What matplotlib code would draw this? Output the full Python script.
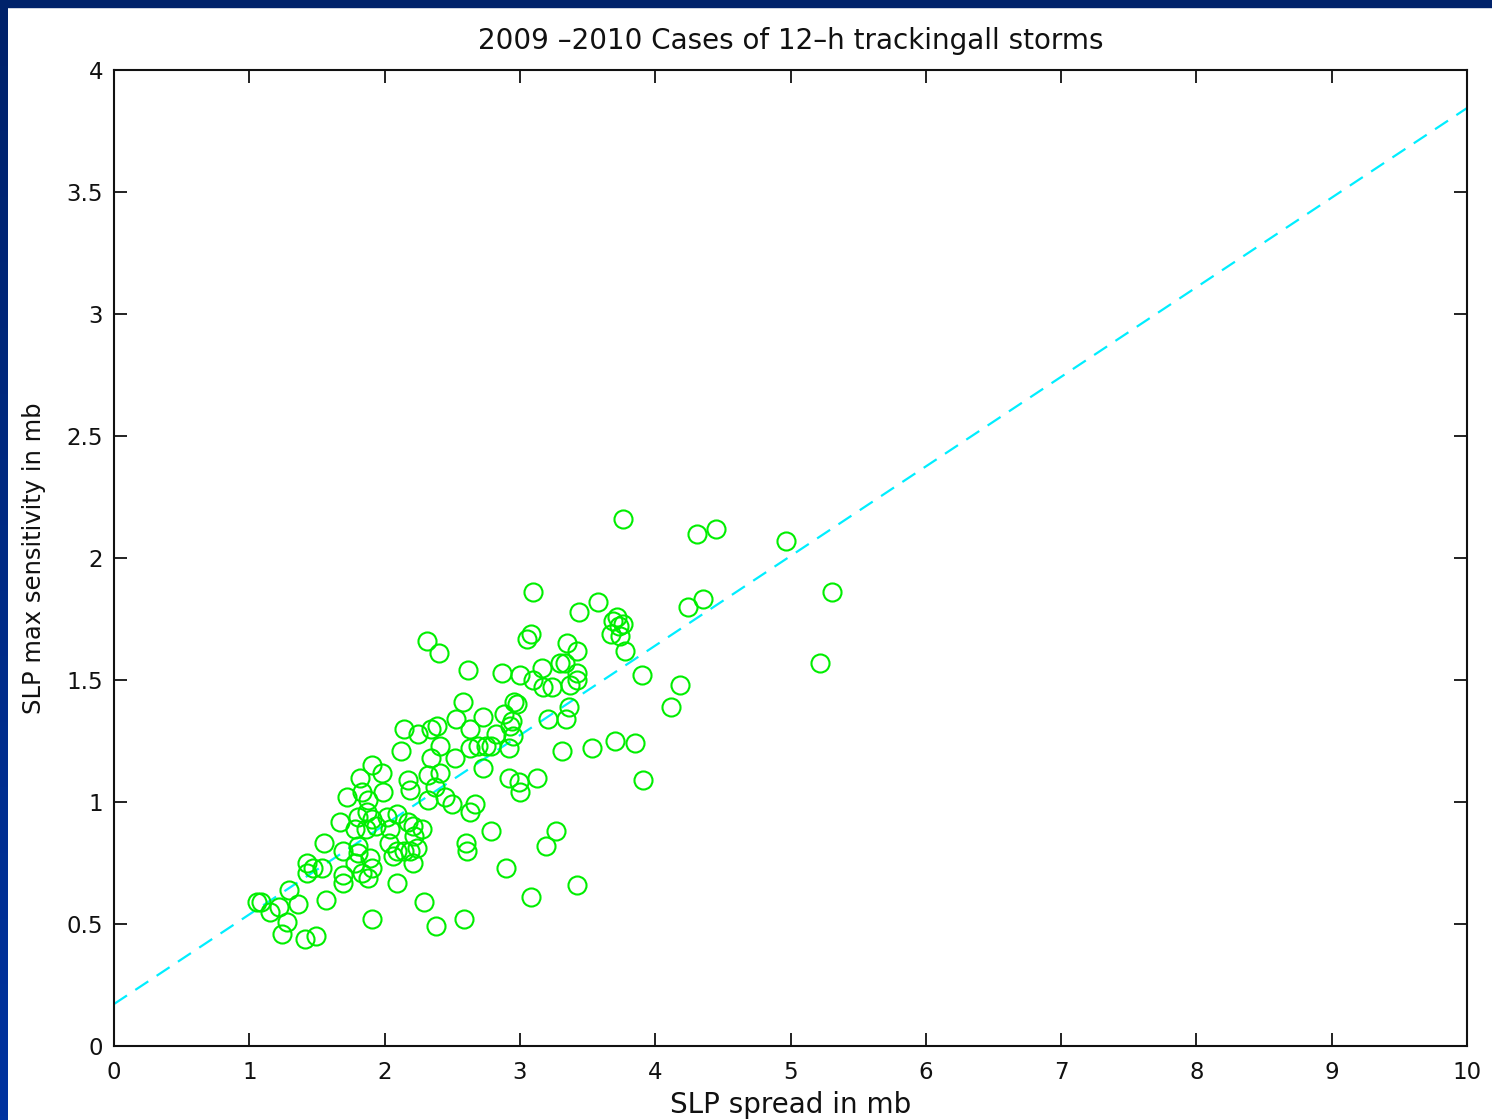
import numpy as np
import matplotlib
matplotlib.use("Agg")
import matplotlib.pyplot as plt
from matplotlib.patches import Rectangle
from matplotlib.colors import LinearSegmentedColormap

# SLP spread (mb) vs SLP max sensitivity (mb) for 12-h tracked storms, 2009-2010
spread = [
    1.06, 1.09, 1.15, 1.22, 1.24, 1.29, 1.28, 1.36, 1.41, 1.49,
    1.43, 1.47, 1.54, 1.43, 1.55, 1.57, 1.67, 1.69, 1.69, 1.69,
    1.72, 1.78, 1.80, 1.78, 1.80, 1.80, 1.82, 1.83, 1.83, 1.86,
    1.87, 1.88, 1.88, 1.89, 1.91, 1.91, 1.91, 1.91, 1.94, 1.98,
    1.99, 2.02, 2.03, 2.04, 2.06, 2.09, 2.09, 2.09, 2.12, 2.14,
    2.14, 2.17, 2.17, 2.19, 2.19, 2.21, 2.21, 2.22, 2.24, 2.25,
    2.28, 2.29, 2.31, 2.32, 2.32, 2.34, 2.34, 2.37, 2.39, 2.40,
    2.41, 2.41, 2.38, 2.45, 2.50, 2.52, 2.53, 2.58, 2.59, 2.60,
    2.61, 2.62, 2.63, 2.63, 2.63, 2.67, 2.69, 2.73, 2.73, 2.75,
    2.79, 2.79, 2.82, 2.87, 2.88, 2.90, 2.92, 2.92, 2.93, 2.94,
    2.95, 2.96, 2.98, 2.99, 3.00, 3.00, 3.05, 3.08, 3.08, 3.10,
    3.10, 3.13, 3.16, 3.17, 3.19, 3.21, 3.24, 3.27, 3.30, 3.33,
    3.31, 3.35, 3.34, 3.36, 3.37, 3.42, 3.42, 3.42, 3.42, 3.44,
    3.53, 3.58, 3.67, 3.69, 3.70, 3.72, 3.73, 3.74, 3.76, 3.76,
    3.78, 3.85, 3.90, 3.91, 4.12, 4.18, 4.24, 4.31, 4.35, 4.45,
    4.97, 5.22, 5.31,
]
sensitivity = [
    0.59, 0.59, 0.55, 0.57, 0.46, 0.64, 0.51, 0.58, 0.44, 0.45,
    0.75, 0.73, 0.73, 0.71, 0.83, 0.60, 0.92, 0.80, 0.70, 0.67,
    1.02, 0.89, 0.82, 0.75, 0.94, 0.79, 1.10, 1.04, 0.71, 0.89,
    0.96, 1.01, 0.69, 0.77, 1.15, 0.93, 0.73, 0.52, 0.90, 1.12,
    1.04, 0.94, 0.83, 0.89, 0.78, 0.95, 0.80, 0.67, 1.21, 1.30,
    0.80, 0.92, 1.09, 1.05, 0.80, 0.90, 0.75, 0.86, 0.81, 1.28,
    0.89, 0.59, 1.66, 1.11, 1.01, 1.18, 1.30, 1.06, 1.31, 1.61,
    1.23, 1.12, 0.49, 1.02, 0.99, 1.18, 1.34, 1.41, 0.52, 0.83,
    0.80, 1.54, 1.30, 1.22, 0.96, 0.99, 1.23, 1.35, 1.14, 1.23,
    1.23, 0.88, 1.28, 1.53, 1.36, 0.73, 1.22, 1.10, 1.31, 1.33,
    1.27, 1.41, 1.40, 1.08, 1.52, 1.04, 1.67, 1.69, 0.61, 1.86,
    1.50, 1.10, 1.55, 1.47, 0.82, 1.34, 1.47, 0.88, 1.57, 1.57,
    1.21, 1.65, 1.34, 1.39, 1.48, 1.62, 1.53, 1.50, 0.66, 1.78,
    1.22, 1.82, 1.69, 1.74, 1.25, 1.76, 1.72, 1.68, 2.16, 1.73,
    1.62, 1.24, 1.52, 1.09, 1.39, 1.48, 1.80, 2.10, 1.83, 2.12,
    2.07, 1.57, 1.86,
]

# least-squares fit line end points
fit_x = [0.0, 10.0]
fit_y = [0.172, 3.844]

title = "2009 \u20132010 Cases of 12\u2013h trackingall storms"
xlabel = "SLP spread in mb"
ylabel = "SLP max sensitivity in mb"
xticks = [0, 1, 2, 3, 4, 5, 6, 7, 8, 9, 10]
yticks = [0, 0.5, 1, 1.5, 2, 2.5, 3, 3.5, 4]
ytick_labels = ["0", "0.5", "1", "1.5", "2", "2.5", "3", "3.5", "4"]

plt.rcParams["font.family"] = ["DejaVu Sans"]
ink = "#111111"

fig = plt.figure(figsize=(14.92, 11.2), dpi=100)
fig.patch.set_facecolor("white")

# dark blue frame on the top and left edges
strip = fig.add_axes([0, 0, 8 / 1492, 1])
grad = np.linspace(0, 1, 256).reshape(-1, 1)
cmap = LinearSegmentedColormap.from_list("frame", ["#00226a", "#0033a0"])
strip.imshow(grad, aspect="auto", cmap=cmap, origin="upper")
strip.set_axis_off()
fig.patches.append(Rectangle((0, 1 - 7 / 1120), 1, 7 / 1120,
                             transform=fig.transFigure, color="#00226a",
                             zorder=10))

ax = fig.add_axes([114 / 1492, 1 - 1046 / 1120,
                   (1467 - 114) / 1492, (1046 - 70) / 1120])

ax.plot(fit_x, fit_y, linestyle=(0, (7, 4.5)), color="#00eeff",
        linewidth=1.6, zorder=2)
ax.plot(spread, sensitivity, linestyle="none", marker="o", markersize=13,
        markerfacecolor="none", markeredgecolor="#00ee00",
        markeredgewidth=1.5, zorder=3)

ax.set_xlim(0, 10)
ax.set_ylim(0, 4)
ax.set_xticks(xticks)
ax.set_xticklabels([str(t) for t in xticks])
ax.set_yticks(yticks)
ax.set_yticklabels(ytick_labels)
ax.tick_params(direction="in", length=9.5, width=1.3, top=True, right=True,
               labelsize=16.5, colors=ink)
ax.tick_params(axis="x", pad=11)
ax.tick_params(axis="y", pad=8)
for sp in ax.spines.values():
    sp.set_linewidth(1.5)
    sp.set_color(ink)

ax.set_title(title, fontsize=20, pad=15, color=ink)
ax.set_xlabel(xlabel, fontsize=20, color=ink)
ax.set_ylabel(ylabel, fontsize=17.5, color=ink)
ax.xaxis.set_label_coords(0.5, -0.0461)
ax.yaxis.set_label_coords(-0.0503, 0.5)

fig.savefig("out.png", dpi=100)
